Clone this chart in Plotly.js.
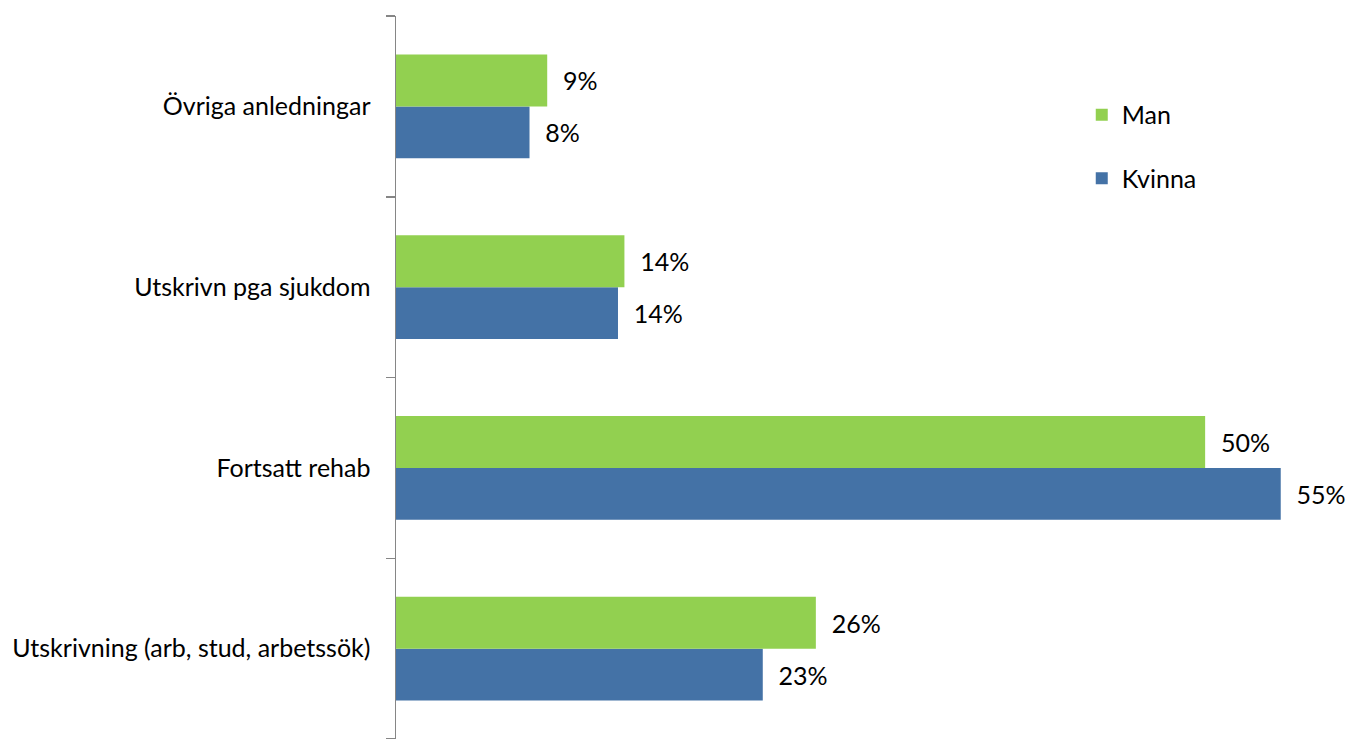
<!DOCTYPE html>
<html>
<head>
<meta charset="utf-8">
<script src="https://cdn.plot.ly/plotly-3.0.1.min.js"></script>
<style>html,body{margin:0;padding:0;background:#fff;}#chart{width:1347px;height:739px;}</style>
</head>
<body>
<div id="chart"></div>
<script>
const categories = ["Utskrivning (arb, stud, arbetssök)", "Fortsatt rehab", "Utskrivn pga sjukdom", "Övriga anledningar"];
const manValues = [0.261, 0.503, 0.142, 0.094];
const kvinnaValues = [0.228, 0.550, 0.138, 0.083];
const seriesNames = ["Man", "Kvinna"];

const FONT = "Lato, 'Noto Sans', sans-serif";
const FS = 25;
const pad = "\u00a0\u00a0";

const traces = [
  {
    type: "bar", orientation: "h", name: seriesNames[1],
    y: categories, x: kvinnaValues,
    marker: {color: "#4472A6"},
    texttemplate: pad + "%{x:.0%}", textposition: "outside", cliponaxis: false,
    textfont: {family: FONT, size: FS, color: "#000"},
    legendgroup: "k", legendrank: 2, hoverinfo: "skip"
  },
  {
    type: "bar", orientation: "h", name: seriesNames[0],
    y: categories, x: manValues,
    marker: {color: "#92D050"},
    texttemplate: pad + "%{x:.0%}", textposition: "outside", cliponaxis: false,
    textfont: {family: FONT, size: FS, color: "#000"},
    legendgroup: "m", legendrank: 1, hoverinfo: "skip"
  }
];

const layout = {
  width: 1347, height: 739,
  margin: {l: 396, r: 18, t: 16, b: 0, pad: 0},
  paper_bgcolor: "#fff", plot_bgcolor: "#fff",
  font: {family: FONT, size: FS, color: "#000"},
  barmode: "group", bargap: 0.425, bargroupgap: 0,
  xaxis: {range: [0, 0.58], visible: false, showgrid: false, zeroline: false, fixedrange: true},
  yaxis: {
    type: "category", categoryorder: "array", categoryarray: categories,
    showline: true, linecolor: "#868686", linewidth: 1.5,
    ticks: "outside", tickson: "boundaries", ticklen: 9, tickcolor: "#868686", tickwidth: 1.5,
    ticklabelstandoff: 19, showgrid: false, zeroline: false, fixedrange: true,
    tickfont: {family: FONT, size: FS, color: "#000"}
  },
  showlegend: true,
  legend: {
    x: 0.735, xanchor: "left", y: 0.895, yanchor: "top",
    traceorder: "grouped", tracegroupgap: 28,
    font: {family: FONT, size: FS, color: "#000"},
    bgcolor: "rgba(0,0,0,0)", itemclick: false, itemdoubleclick: false
  }
};

Plotly.newPlot("chart", traces, layout, {displayModeBar: false, staticPlot: true});
</script>
</body>
</html>
